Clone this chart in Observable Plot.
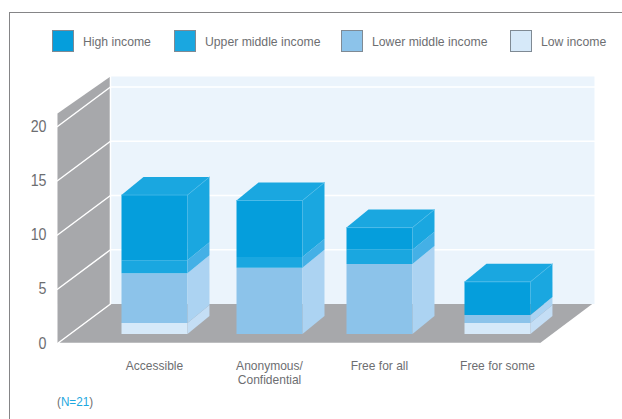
<!DOCTYPE html>
<html><head><meta charset="utf-8">
<script src="https://cdn.jsdelivr.net/npm/d3@7"></script>
<script src="https://cdn.jsdelivr.net/npm/@observablehq/plot@0.6"></script>
<style>
html,body{margin:0;padding:0;background:#fff;overflow:hidden}
#wrap{position:relative;width:622px;height:419px;font-family:"Liberation Sans",sans-serif;color:#6d6e71}
#frame{position:absolute;left:9px;top:12px;right:-5px;bottom:-5px;border:1.5px solid #858587;box-sizing:border-box}
#chart{position:absolute;left:0;top:0}
.key{position:absolute;top:30px;height:22px;display:flex;align-items:center;font-size:13.5px;white-space:nowrap}
.sw{width:22px;height:22px;box-sizing:border-box;border:1.5px solid #7f8a94;margin-right:9px;flex:none}
.lb{display:inline-block;transform:scaleX(.905);transform-origin:left center}
#note{position:absolute;left:57px;top:394px;font-size:13px;transform:scaleX(.9);transform-origin:left center}
#note b{font-weight:normal;color:#1ca8e0}
</style></head><body>
<div id="wrap"><div id="frame"></div><div id="chart"></div><div id="note">(<b>N=21</b>)</div></div>
<script>
// Data
const categories = ["Accessible", "Anonymous/\nConfidential", "Free for all", "Free for some"];
const lowIncome = [1.0, 0, 0, 1.0];
const lowerMiddleIncome = [4.6, 6.1, 6.45, 0.75];
const upperMiddleIncome = [1.2, 1.0, 1.3, 0];
const highIncome = [6.0, 5.2, 2.05, 3.05];
const yTicks = [0, 5, 10, 15, 20];
const seriesNames = ["Low income", "Lower middle income", "Upper middle income", "High income"];

// Style and layout
const front = {"High income":"#059edc","Upper middle income":"#1aa7e0","Lower middle income":"#8cc3ea","Low income":"#d6e9f9"};
const side = {"High income":"#1aa7e0","Upper middle income":"#44b0e6","Lower middle income":"#acd3f2","Low income":"#c4def5"};
const legendLeft = {"High income":52,"Upper middle income":174,"Lower middle income":341,"Low income":510};
const slots = [0, 1.006, 1.968, 3];
const barW = 0.577, barDX = 0.1924, barDY = 1.66, barBase = 0.88;
const wallL = -0.56, wallDX = 0.4636, wallDY = 3.64, panelR = 4.137, floorR = 3.656, wallTop = 21.2, panelTop = 24.6;
const wallColor = "#a7a8ab", panelColor = "#ebf4fc";

const allSeries = [lowIncome, lowerMiddleIncome, upperMiddleIncome, highIncome];
const polys = [];
let pid = 0;
function poly(points, fill){ pid++; points.forEach(([x,y]) => polys.push({x,y,id:pid,fill})); }
const backL = wallL + wallDX;
poly([[backL,wallDY],[backL,panelTop],[panelR,panelTop],[panelR,wallDY]], panelColor);
poly([[wallL,0],[backL,wallDY],[backL,panelTop],[wallL,wallTop]], wallColor);
const gridPts = [];
yTicks.forEach(v => {
  if (v === 0) return;
  gridPts.push({x:wallL,y:v,k:v},{x:backL,y:v+wallDY,k:v},{x:panelR,y:v+wallDY,k:v});
});
gridPts.push({x:backL,y:wallDY,k:"v"},{x:backL,y:panelTop,k:"v"});
const polysBack = polys.slice();
polys.length = 0;
poly([[wallL,0],[backL,wallDY],[panelR-0.02,wallDY],[floorR,0]], wallColor);
const floorEdge = [{x:backL,y:wallDY,k:"a"},{x:wallL,y:0,k:"a"},{x:floorR,y:0,k:"a"}];

const edges = [];
categories.forEach((c,i) => {
  const u = slots[i], r = u + barW;
  let b = barBase;
  allSeries.forEach((s,k) => {
    const t = b + s[i];
    if (s[i] > 0) {
      const name = seriesNames[k];
      poly([[u,b],[r,b],[r,t],[u,t]], front[name]);
      poly([[r,b],[r+barDX,b+barDY],[r+barDX,t+barDY],[r,t]], side[name]);
    }
    b = t;
  });
  poly([[u,b],[r,b],[r+barDX,b+barDY],[u+barDX,b+barDY]], side["High income"]);
  edges.push({x:u,y:b,k:i},{x:r,y:b,k:i},{x:r+barDX,y:b+barDY,k:i});
});

const labels = categories.map((c,i) => ({c, x:slots[i]+barW/2}));

const plot = Plot.plot({
  width:622, height:419, margin:0, marginLeft:46,
  x:{type:"linear", domain:[-0.656,4.382], axis:null},
  y:{type:"linear", domain:[-7.005,31.613]},
  color:{type:"identity"},
  style:{background:"transparent", fontFamily:'"Liberation Sans",sans-serif'},
  marks:[
    Plot.line(polysBack,{x:"x",y:"y",z:"id",fill:"fill",stroke:null}),
    Plot.line(gridPts,{x:"x",y:"y",z:"k",stroke:"#fff",strokeWidth:1.5}),
    Plot.line(polys,{x:"x",y:"y",z:"id",fill:"fill",stroke:null}),
    Plot.line(floorEdge,{x:"x",y:"y",z:"k",stroke:"#fff",strokeWidth:1.5}),
    Plot.line(edges,{x:"x",y:"y",z:"k",stroke:"#4dbbea",strokeWidth:0.7}),
    Plot.axisY({ticks:yTicks, tickSize:0, tickPadding:0, anchor:"left", label:null, fontSize:16, fill:"#6d6e71"}),
    Plot.text(labels,{x:"x",y:()=>-1.5,text:"c",lineAnchor:"top",lineHeight:1.05,fontSize:13.5,fill:"#6d6e71"})
  ]
});
document.getElementById("chart").append(plot);

// Condense the text, as the reference uses a condensed face
plot.querySelectorAll("text").forEach(t => {
  const parts = t.querySelectorAll("tspan");
  (parts.length ? [...parts] : [t]).forEach(p => {
    const len = p.getComputedTextLength();
    p.setAttribute("textLength", (len * 0.89).toFixed(2));
    p.setAttribute("lengthAdjust", "spacingAndGlyphs");
  });
});

const wrap = document.getElementById("wrap");
["High income","Upper middle income","Lower middle income","Low income"].forEach(n => {
  const d = document.createElement("div");
  d.className = "key"; d.style.left = legendLeft[n] + "px";
  const s = document.createElement("span");
  s.className = "sw"; s.style.background = front[n];
  const l = document.createElement("span");
  l.className = "lb"; l.textContent = n;
  d.append(s, l);
  wrap.append(d);
});
</script></body></html>
